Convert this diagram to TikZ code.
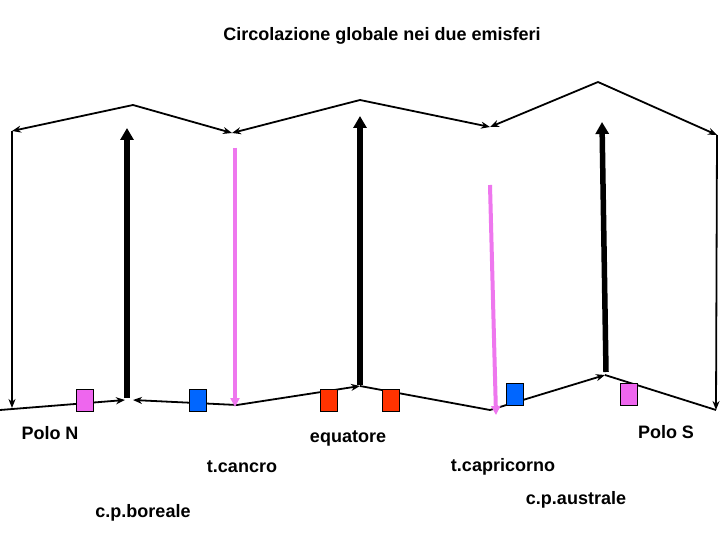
\documentclass[tikz,border=0pt]{standalone}
\usepackage{fontspec}
\setmainfont{Liberation Sans}
\usetikzlibrary{arrows.meta}
\definecolor{vl}{HTML}{EE77EE}
\definecolor{pk}{HTML}{EE66EE}
\definecolor{bl}{HTML}{0066FF}
\definecolor{rd}{HTML}{FF3300}
\begin{document}
\begin{tikzpicture}[x=1pt,y=-1pt,
 thin arr/.style={draw=black,line width=1.8pt,-{Stealth[length=9pt,width=7pt]}},
 thick arr/.style={draw=black,line width=5.5pt,-{Triangle[length=12pt,width=13pt]}},
 vio/.style={draw=vl,line width=4pt,-{Triangle[length=9pt,width=9pt]}},
 box/.style={draw=black,line width=0.5pt,minimum width=17pt,minimum height=22pt,inner sep=0pt},
 lbl/.style={font=\fontsize{18}{20}\selectfont\bfseries}]
\useasboundingbox (0,0) rectangle (720,540);
\fill[white] (0,0) rectangle (720,540);
\node[lbl] (title) at (382,36) {Circolazione globale nei due emisferi};
% top
\coordinate (t1) at (133,105); \coordinate (t2) at (360,100); \coordinate (t3) at (598,82);
\coordinate (a1) at (12,131); \coordinate (a2) at (232,133); \coordinate (a3) at (490,127); \coordinate (a4) at (717,135);
\draw[thin arr] (t1) -- (a1); \draw[thin arr] (t1) -- (a2);
\draw[thin arr] (t2) -- (a2); \draw[thin arr] (t2) -- (a3);
\draw[thin arr] (t3) -- (a3); \draw[thin arr] (t3) -- (a4);
% outer verticals
\coordinate (l1) at (12,408); \coordinate (r1) at (716,410);
\draw[thin arr] (a1) -- (l1); \draw[thin arr] (a4) -- (r1);
% bottom
\coordinate (b0) at (0,410); \coordinate (b1) at (125,400); \coordinate (b2) at (133,400);
\coordinate (b3) at (237,405); \coordinate (b4) at (360,386); \coordinate (b5) at (490,410);
\coordinate (b6) at (605,375); \coordinate (b7) at (716,410);
\draw[thin arr] (b0) -- (b1); \draw[thin arr] (b3) -- (b2);
\draw[thin arr] (b3) -- (b4); \draw[line width=1.8pt] (b4) -- (b5);
\draw[thin arr] (b5) -- (b6); \draw[line width=1.8pt] (b6) -- (b7);
% thick
\coordinate (k1) at (127,398); \coordinate (k1t) at (127,128);
\coordinate (k2) at (360,385); \coordinate (k2t) at (360,116);
\coordinate (k3) at (606,372); \coordinate (k3t) at (602,122);
\draw[thick arr] (k1) -- (k1t); \draw[thick arr] (k2) -- (k2t); \draw[thick arr] (k3) -- (k3t);
% violet
\coordinate (v1) at (235,148); \coordinate (v1b) at (235,407);
\coordinate (v2) at (490,185); \coordinate (v2b) at (496,415);
\draw[vio] (v1) -- (v1b); \draw[vio] (v2) -- (v2b);
% boxes
\node[box,fill=pk] (p1) at (85,400) {};
\node[box,fill=bl] (q1) at (198,400) {};
\node[box,fill=rd] (r1b) at (329,400) {};
\node[box,fill=rd] (r2b) at (391,400) {};
\node[box,fill=bl] (q2) at (515,394) {};
\node[box,fill=pk] (p2) at (629,394) {};
% labels
\node[lbl] (pn) at (50,433) {Polo N};
\node[lbl] (eq) at (348,438) {equatore};
\node[lbl] (ps) at (666,432) {Polo S};
\node[lbl] (tc) at (242,467) {t.cancro};
\node[lbl] (tp) at (503,467) {t.capricorno};
\node[lbl] (cb) at (143,513) {c.p.boreale};
\node[lbl] (ca) at (576,500) {c.p.australe};
\end{tikzpicture}
\end{document}
